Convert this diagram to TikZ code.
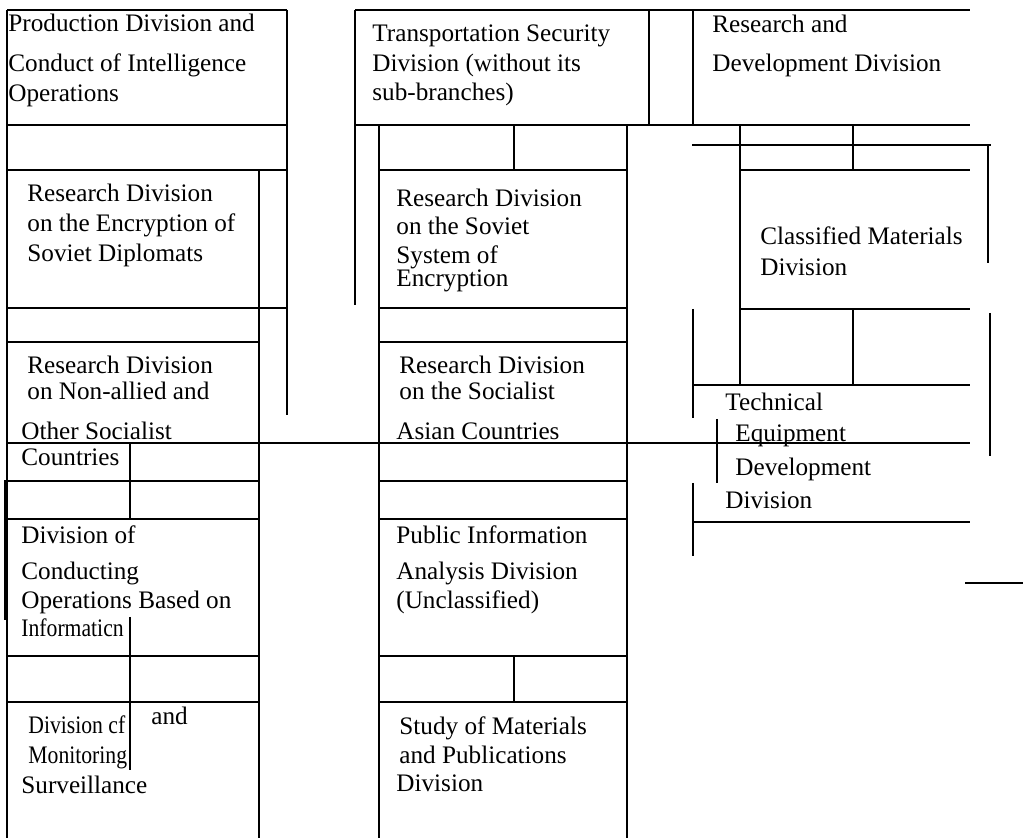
\documentclass[tikz,border=0pt]{standalone}
\usepackage{fontspec}
\setmainfont{Liberation Serif}
\newfontfamily\condfont{Liberation Serif}[FakeStretch=0.86]
\usepackage{tikz}

\begin{document}
\begin{tikzpicture}[
        x=0.5pt, y=-0.5pt,
        cell/.style = {line width=1pt},
        lbl/.style  = {anchor=base west, inner sep=0pt, font=\fontsize{12.6}{15}\selectfont},
        cnd/.style  = {lbl, font=\fontsize{12.6}{15}\condfont}
    ]
        \useasboundingbox (0,0) rectangle (1023,838);

        % left column
        \draw[cell] (7,10) -- (287,10)  (7,125) -- (287,125)  (7,170) -- (287,170)  (7,308) -- (287,308)
                    (7,342) -- (259,342)  (7,481) -- (259,481)  (7,519) -- (259,519)
                    (7,656) -- (259,656)  (7,702) -- (259,702);
        \draw[cell] (7,10) -- (7,838)  (287,10) -- (287,415)  (259,170) -- (259,838)
                    (130,443) -- (130,519)  (130,617) -- (130,770);
        \draw[line width=1.5pt] (5,480) -- (5,620);

        % long line across
        \draw[cell] (7,443) -- (970,443);

        % middle column
        \draw[cell] (355,10) -- (970,10)  (355,125) -- (970,125)
                    (379,170) -- (627,170)  (379,308) -- (627,308)  (379,342) -- (627,342)
                    (379,481) -- (627,481)  (379,519) -- (627,519)  (379,656) -- (627,656)
                    (379,702) -- (627,702);
        \draw[cell] (355,10) -- (355,305)  (649,10) -- (649,125)  (379,125) -- (379,838)
                    (627,125) -- (627,838)  (514,125) -- (514,170)  (514,656) -- (514,702);

        % right column
        \draw[cell] (692,145) -- (991,145)  (740,170) -- (970,170)  (740,309) -- (970,309)
                    (693,385) -- (970,385)  (693,522) -- (970,522)  (965,583) -- (1023,583);
        \draw[cell] (693,10) -- (693,125)  (740,125) -- (740,385)  (853,125) -- (853,170)
                    (853,309) -- (853,385)  (988,145) -- (988,263)  (990,313) -- (990,456)
                    (693,309) -- (693,418)  (717,419) -- (717,483)  (693,483) -- (693,556);

        % left texts
        \node[lbl] (prodA) at (8,32)  {Production Division and};
        \node[lbl] (prodB) at (8,72)  {Conduct of Intelligence};
        \node[lbl] (prodC) at (8,102) {Operations};
        \node[lbl] (encA) at (27,202) {Research Division};
        \node[lbl] (encB) at (27,232) {on the Encryption of};
        \node[lbl] (encC) at (27,262) {Soviet Diplomats};
        \node[lbl] (nonA) at (27,374) {Research Division};
        \node[lbl] (nonB) at (27,400) {on Non-allied and};
        \node[lbl] (nonC) at (21,440) {Other Socialist};
        \node[lbl] (nonD) at (21,466) {Countries};
        \node[lbl] (opsA) at (21,544) {Division of};
        \node[lbl] (opsB) at (21,580) {Conducting};
        \node[lbl] (opsC) at (21,609) {Operations Based on};
        \node[cnd] (opsD) at (21,637) {Informaticn};
        \node[cnd] (monA) at (28,734) {Division cf};
        \node[cnd] (monB) at (28,764) {Monitoring};
        \node[lbl] (monC) at (21,794) {Surveillance};
        \node[lbl] (monD) at (151,725) {and};

        % middle texts
        \node[lbl] (trsA) at (372,42)  {Transportation Security};
        \node[lbl] (trsB) at (372,72)  {Division (without its};
        \node[lbl] (trsC) at (372,101) {sub-branches)};
        \node[lbl] (sovA) at (396,207) {Research Division};
        \node[lbl] (sovB) at (396,235) {on the Soviet};
        \node[lbl] (sovC) at (396,264) {System of};
        \node[lbl] (sovD) at (396,287) {Encryption};
        \node[lbl] (asiA) at (399,374) {Research Division};
        \node[lbl] (asiB) at (399,400) {on the Socialist};
        \node[lbl] (asiC) at (396,440) {Asian Countries};
        \node[lbl] (pubA) at (396,544) {Public Information};
        \node[lbl] (pubB) at (396,580) {Analysis Division};
        \node[lbl] (pubC) at (396,609) {(Unclassified)};
        \node[lbl] (stdA) at (399,735) {Study of Materials};
        \node[lbl] (stdB) at (399,764) {and Publications};
        \node[lbl] (stdC) at (396,792) {Division};

        % right texts
        \node[lbl] (rndA) at (712,33)  {Research and};
        \node[lbl] (rndB) at (712,72)  {Development Division};
        \node[lbl] (clsA) at (760,245) {Classified Materials};
        \node[lbl] (clsB) at (760,276) {Division};
        \node[lbl] (tecA) at (725,411) {Technical};
        \node[lbl] (tecB) at (735,442) {Equipment};
        \node[lbl] (tecC) at (735,476) {Development};
        \node[lbl] (tecD) at (725,509) {Division};
    \end{tikzpicture}
\end{document}
